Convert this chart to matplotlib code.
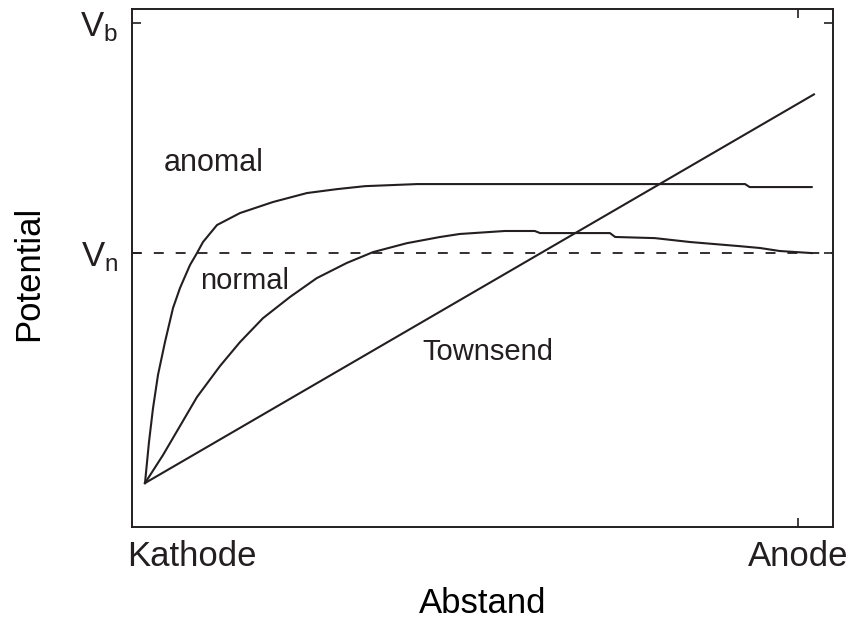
import matplotlib as mpl
import matplotlib.pyplot as plt
from matplotlib.transforms import blended_transform_factory

INK = "#231f20"

# distance from cathode (anode = 1) and potential (V_n = 1, V_b = 2)
anomal_x = [0, 0.0061, 0.0123, 0.0199, 0.0306, 0.0429, 0.0536, 0.0689, 0.0796,
            0.0888, 0.1103, 0.1455, 0.196, 0.248, 0.294, 0.337, 0.417, 0.919,
            0.926, 1.021]
anomal_y = [0, 0.178, 0.326, 0.470, 0.613, 0.761, 0.848, 0.948, 1.0,
            1.048, 1.122, 1.174, 1.222, 1.261, 1.278, 1.291, 1.30, 1.30,
            1.287, 1.287]

normal_x = [0, 0.0276, 0.0536, 0.0796, 0.1149, 0.1455, 0.1807, 0.222, 0.263,
            0.309, 0.349, 0.401, 0.452, 0.482, 0.551, 0.597, 0.605, 0.712,
            0.720, 0.781, 0.835, 0.873, 0.911, 0.942, 0.972, 1.021]
normal_y = [0, 0.122, 0.248, 0.374, 0.509, 0.613, 0.717, 0.809, 0.891,
            0.957, 1.004, 1.043, 1.070, 1.083, 1.096, 1.096, 1.087, 1.087,
            1.070, 1.065, 1.048, 1.039, 1.030, 1.022, 1.009, 1.0]

townsend_x = [0, 1.0245]
townsend_y = [0, 1.69]

V_n = 1.0
V_b = 2.0
x_ticks = [1.0]
x_labels = ["Anode"]
y_ticks = [V_n, V_b]
y_labels = [r"$\mathregular{V_n}$", r"$\mathregular{V_b}$"]

mpl.rcParams.update({
    "font.family": "Liberation Sans",
    "mathtext.fontset": "custom",
    "mathtext.rm": "Liberation Sans",
    "text.color": INK,
    "axes.edgecolor": INK,
    "xtick.color": INK,
    "ytick.color": INK,
})

fig = plt.figure(figsize=(8.56, 6.19), dpi=100)
ax = fig.add_axes([0.1542, 0.1486, 0.8189, 0.8368])

lw = 1.5
ax.plot(anomal_x, anomal_y, color=INK, lw=lw)
ax.plot(normal_x, normal_y, color=INK, lw=lw)
ax.plot(townsend_x, townsend_y, color=INK, lw=lw)
ax.axhline(V_n, color=INK, lw=1.3, linestyle=(0, (5.5, 6.6)))

ax.set_xlim(-0.0199, 1.0536)
ax.set_ylim(-0.191, 2.061)

ax.text(0.028, 1.325, "anomal", fontsize=22, ha="left", va="bottom")
ax.text(0.084, 0.88, "normal", fontsize=21, ha="left", va="center")
ax.text(0.425, 0.57, "Townsend", fontsize=21, ha="left", va="center")

for s in ax.spines.values():
    s.set_linewidth(1.4)

ax.set_xticks(x_ticks)
ax.set_xticklabels(x_labels, fontsize=25)
ax.set_yticks(y_ticks)
ax.set_yticklabels(y_labels, fontsize=25)
ax.tick_params(direction="in", length=6.5, width=1.2, top=True, right=True)
ax.tick_params(axis="x", pad=9)
ax.tick_params(axis="y", pad=10)

# cathode label sits at the left spine, left-aligned
ax.text(-0.0275, -0.0255, "Kathode", fontsize=25, ha="left", va="top",
        transform=blended_transform_factory(ax.transData, ax.transAxes))

ax.set_xlabel("Abstand", fontsize=25)
ax.set_ylabel("Potential", fontsize=25)
ax.xaxis.set_label_coords(0.5, -0.115)
ax.yaxis.set_label_coords(-0.124, 0.49)

fig.savefig("out.png", dpi=100)
